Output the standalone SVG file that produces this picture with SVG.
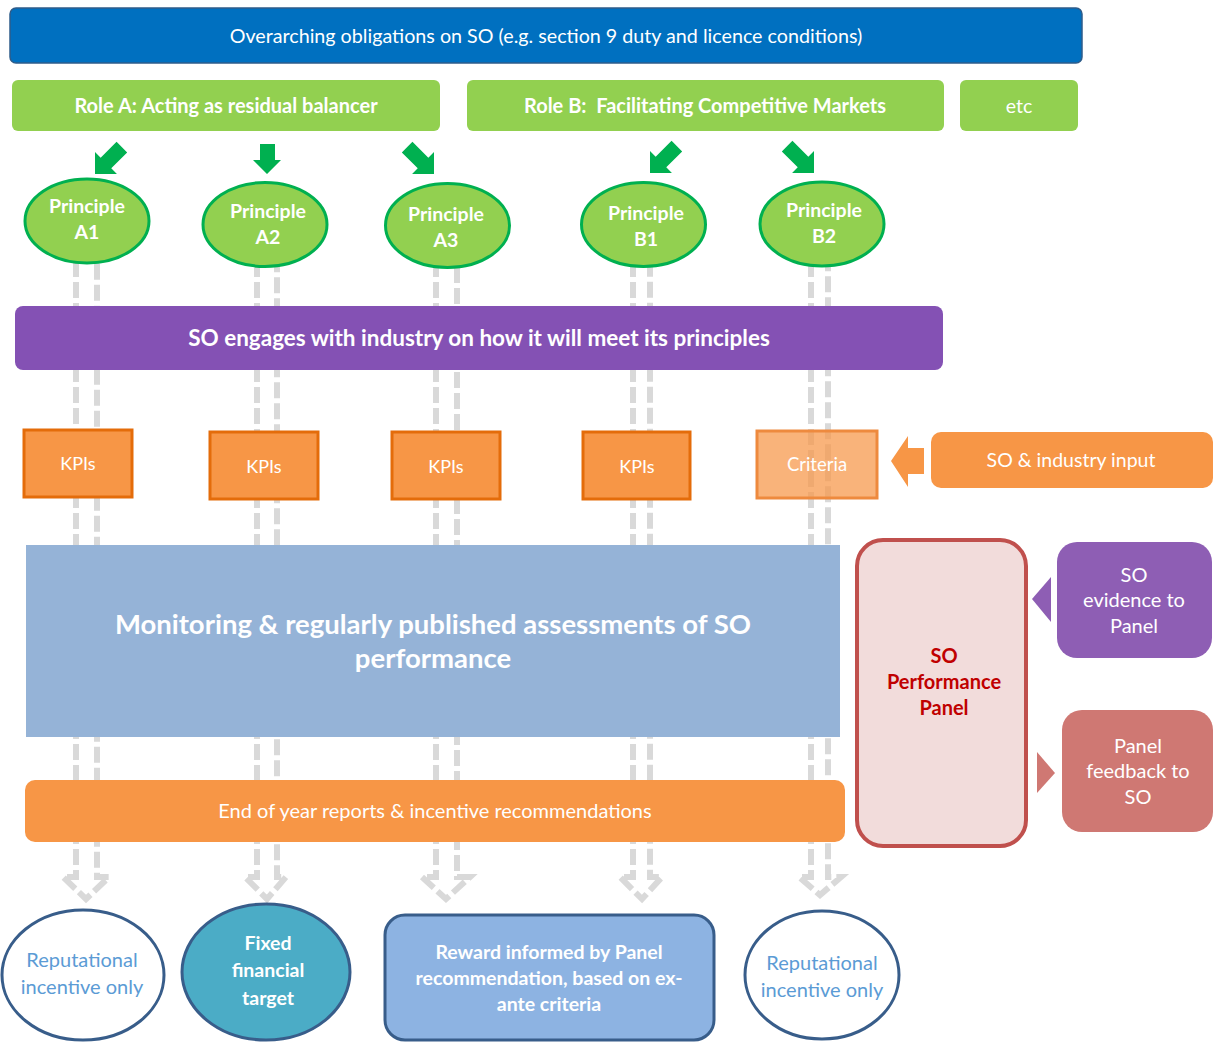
<svg xmlns="http://www.w3.org/2000/svg" width="1214" height="1042" viewBox="0 0 1214 1042">
<style>
text{font-family:Lato,"Open Sans","Liberation Sans",sans-serif;text-anchor:middle;fill:#fff;white-space:pre}
.b{font-weight:bold}
.conn{fill:none;stroke:#D9D9D9;stroke-width:6;stroke-dasharray:16 5}
.prin{fill:#92D050;stroke:#00B050;stroke-width:3}
.role{fill:#92D050}
.kpi{fill:#F79646;stroke:#E46C0A;stroke-width:3}
.garrow{fill:#00B050}
.bott{stroke:#385D8A;stroke-width:3}
.rep{fill:#5B9BD5;font-size:20px}
.pt{font-weight:bold;font-size:19.5px}
.side{font-size:20px}
</style>
<defs>
<path id="darr" d="M-7.5,-38 H7.5 V-15.5 H15.5 L0,0 L-15.5,-15.5 H-7.5 Z"/>
</defs>
<g id="connectors">
<path class="conn" d="M76,240 V877 H63 L86,899 L109,877 H97 V240"/>
<path class="conn" d="M257,240 V877 H245 L267,899 L286,877 H277 V240"/>
<path class="conn" d="M436,240 V877 H422 L446,899 L470,877 H457 V240"/>
<path class="conn" d="M633,240 V877 H620 L642,899 L662,877 H650 V240"/>
<path class="conn" d="M811,240 V877 H799 L820,895 L841,877 H828 V240"/>
</g>
<g id="top">
<rect x="10" y="8" width="1072" height="55" rx="6" fill="#0070C0" stroke="#2E5C8A" stroke-width="1.5"/>
<text x="546" y="43" font-size="19.7">Overarching obligations on SO (e.g. section 9 duty and licence conditions)</text>
</g>
<g id="roleA">
<rect class="role" x="12" y="80" width="428" height="51" rx="6"/>
<text class="b" x="226" y="113" font-size="20">Role A: Acting as residual balancer</text>
</g>
<g id="roleB">
<rect class="role" x="467" y="80" width="477" height="51" rx="6"/>
<text class="b" x="705" y="113" font-size="20" xml:space="preserve">Role B:  Facilitating Competitive Markets</text>
</g>
<g id="etc">
<rect class="role" x="960" y="80" width="118" height="51" rx="6"/>
<text x="1019" y="113" font-size="19.5">etc</text>
</g>
<g id="arrows-green">
<use href="#darr" class="garrow" transform="translate(95,174) rotate(45)"/>
<path class="garrow" d="M260,144 H275 V160 H281 L267,174 L253,160 H260 Z"/>
<use href="#darr" class="garrow" transform="translate(434,174) rotate(-45)"/>
<use href="#darr" class="garrow" transform="translate(650,173) rotate(45)"/>
<use href="#darr" class="garrow" transform="translate(814,173) rotate(-45)"/>
</g>
<g id="principleA1">
<ellipse class="prin" cx="87" cy="221" rx="62" ry="42"/>
<text class="pt" x="87" y="213">Principle</text>
<text class="pt" x="87" y="239">A1</text>
</g>
<g id="principleA2">
<ellipse class="prin" cx="265" cy="224.5" rx="62" ry="42"/>
<text class="pt" x="268" y="218">Principle</text>
<text class="pt" x="268" y="244">A2</text>
</g>
<g id="principleA3">
<ellipse class="prin" cx="447.5" cy="225.5" rx="62" ry="42"/>
<text class="pt" x="446" y="221">Principle</text>
<text class="pt" x="446" y="247">A3</text>
</g>
<g id="principleB1">
<ellipse class="prin" cx="643.5" cy="224.5" rx="62" ry="42"/>
<text class="pt" x="646" y="220">Principle</text>
<text class="pt" x="646" y="246">B1</text>
</g>
<g id="principleB2">
<ellipse class="prin" cx="822" cy="224" rx="62" ry="42"/>
<text class="pt" x="824" y="217">Principle</text>
<text class="pt" x="824" y="243">B2</text>
</g>
<g id="engage">
<rect x="15" y="306" width="928" height="64" rx="8" fill="#8451B4"/>
<text class="b" x="479" y="346" font-size="22.5">SO engages with industry on how it will meet its principles</text>
</g>
<g id="kpi1">
<rect class="kpi" x="24" y="430" width="108" height="67"/>
<text x="78" y="470" font-size="18">KPIs</text>
</g>
<g id="kpi2">
<rect class="kpi" x="210" y="432" width="108" height="67"/>
<text x="264" y="473" font-size="18">KPIs</text>
</g>
<g id="kpi3">
<rect class="kpi" x="392" y="432" width="108" height="67"/>
<text x="446" y="473" font-size="18">KPIs</text>
</g>
<g id="kpi4">
<rect class="kpi" x="583" y="432" width="107" height="67"/>
<text x="637" y="473" font-size="18">KPIs</text>
</g>
<g id="criteria">
<rect x="757" y="431" width="120" height="67" fill="#F79646" fill-opacity="0.72" stroke="#EE8A3E" stroke-width="3"/>
<text x="817" y="471" font-size="18.5">Criteria</text>
</g>
<g id="input">
<path d="M891,461 L908,436 V448 H924 V474 H908 V487 Z" fill="#F79646"/>
<rect x="931" y="432" width="282" height="56" rx="10" fill="#F79646"/>
<text x="1071" y="467" font-size="19.5">SO &amp; industry input</text>
</g>
<g id="monitoring">
<rect x="26" y="545" width="814" height="192" fill="#95B3D7"/>
<text class="b" x="433" y="634" font-size="27.5">Monitoring &amp; regularly published assessments of SO</text>
<text class="b" x="433" y="668" font-size="27.5">performance</text>
</g>
<g id="endyear">
<rect x="25" y="780" width="820" height="62" rx="10" fill="#F79646"/>
<text x="435" y="818" font-size="20">End of year reports &amp; incentive recommendations</text>
</g>
<g id="panel">
<rect x="857" y="540" width="169" height="306" rx="26" fill="#F2DCDB" stroke="#C0504D" stroke-width="4"/>
<text class="b" x="944" y="663" font-size="20" style="fill:#C00000">SO</text>
<text class="b" x="944" y="689" font-size="20" style="fill:#C00000">Performance</text>
<text class="b" x="944" y="715" font-size="20" style="fill:#C00000">Panel</text>
</g>
<g id="evidence">
<path d="M1032,599 L1051,577 V622 Z" fill="#8E5EB4"/>
<rect x="1057" y="542" width="155" height="116" rx="20" fill="#8E5EB4"/>
<text class="side" x="1134" y="582">SO</text>
<text class="side" x="1134" y="607">evidence to</text>
<text class="side" x="1134" y="633">Panel</text>
</g>
<g id="feedback">
<path d="M1037,752 L1055,773 L1037,793 Z" fill="#CF7873"/>
<rect x="1062" y="710" width="151" height="122" rx="20" fill="#CF7873"/>
<text class="side" x="1138" y="753">Panel</text>
<text class="side" x="1138" y="778">feedback to</text>
<text class="side" x="1138" y="804">SO</text>
</g>
<g id="rep1">
<ellipse class="bott" cx="83" cy="975" rx="81" ry="65" fill="#fff"/>
<text class="rep" x="82" y="967">Reputational</text>
<text class="rep" x="82" y="994">incentive only</text>
</g>
<g id="fixed">
<ellipse class="bott" cx="266" cy="972" rx="84" ry="68" fill="#4BACC6"/>
<text class="b" x="268" y="950" font-size="19.5">Fixed</text>
<text class="b" x="268" y="977" font-size="19.5">financial</text>
<text class="b" x="268" y="1005" font-size="19.5">target</text>
</g>
<g id="reward">
<rect class="bott" x="385" y="915" width="329" height="125" rx="20" fill="#8DB3E2"/>
<text class="b" x="549" y="959" font-size="19.5">Reward informed by Panel</text>
<text class="b" x="549" y="985" font-size="19.5">recommendation, based on ex-</text>
<text class="b" x="549" y="1011" font-size="19.5">ante criteria</text>
</g>
<g id="rep2">
<ellipse class="bott" cx="822" cy="975" rx="77" ry="64" fill="#fff"/>
<text class="rep" x="822" y="970">Reputational</text>
<text class="rep" x="822" y="997">incentive only</text>
</g>
</svg>
